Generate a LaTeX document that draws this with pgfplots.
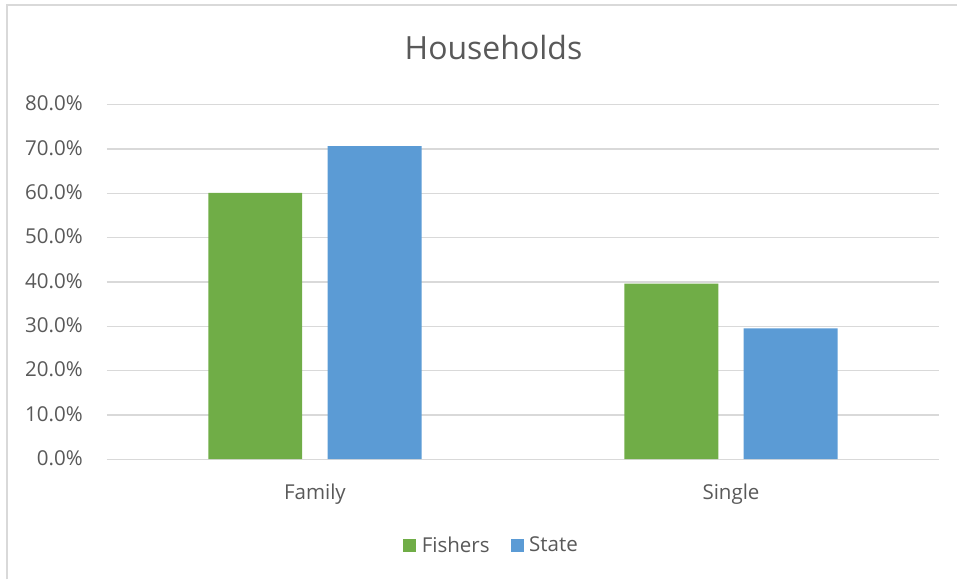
\documentclass[border=0pt]{standalone}
\usepackage{fontspec}
\setmainfont{Open Sans}
\usepackage{pgfplots}
\pgfplotsset{compat=1.18}
\definecolor{fishgreen}{HTML}{70AD47}
\definecolor{stateblue}{HTML}{5B9BD5}
\definecolor{gridgray}{HTML}{D9D9D9}
\definecolor{txtgray}{HTML}{595959}

\begin{document}
\begin{tikzpicture}[x=0.75pt,y=0.75pt]
\path (0,0) rectangle (958,580);
\draw[gridgray, line width=1.5pt] (7,0) -- (7,574.5) -- (958,574.5);
\node[anchor=base, text=txtgray, font=\fontsize{24}{28}\selectfont] at (494,520) {Households};
\begin{axis}[
  at={(80.25pt,90.25pt)}, anchor=south west,
  scale only axis, width=624.75pt, height=266.25pt,
  ybar, bar width=70.5pt,
  xmin=-0.5, xmax=1.5, ymin=0, ymax=80,
  xtick={0,1}, xticklabels={Family,Single},
  ytick={0,10,...,80},
  yticklabel={\pgfmathprintnumber[fixed,fixed zerofill,precision=1]{\tick}\%},
  /pgf/number format/assume math mode=true,
  ymajorgrids, grid style={gridgray, line width=1pt},
  axis x line*=bottom, axis y line*=left,
  y axis line style={draw=none},
  x axis line style={gridgray, line width=1pt},
  major tick length=0,
  tick label style={font=\fontsize{15.4}{18}\selectfont, text=txtgray},
  yticklabel style={anchor=base east, inner sep=0pt, xshift=-18pt, yshift=-4.8pt},
  xticklabel style={anchor=base, inner sep=0pt, yshift=-30pt},
  legend style={at={(0.4628,-0.243)}, anchor=center, draw=none,
    legend columns=2, font=\fontsize{15.4}{18}\selectfont, text=txtgray,
    /tikz/every odd column/.append style={column sep=2pt},
    /tikz/every even column/.append style={column sep=14pt}},
  legend image code/.code={\fill[#1] (0pt,-4.9pt) rectangle (9.75pt,4.9pt);},
]
\addplot[fill=fishgreen, draw=none, bar shift=-44.8pt] coordinates {(0,60.1) (1,39.6)};
\addplot[fill=stateblue, draw=none, bar shift=44.8pt] coordinates {(0,70.6) (1,29.5)};
\legend{Fishers,State}
\end{axis}
\end{tikzpicture}
\end{document}
